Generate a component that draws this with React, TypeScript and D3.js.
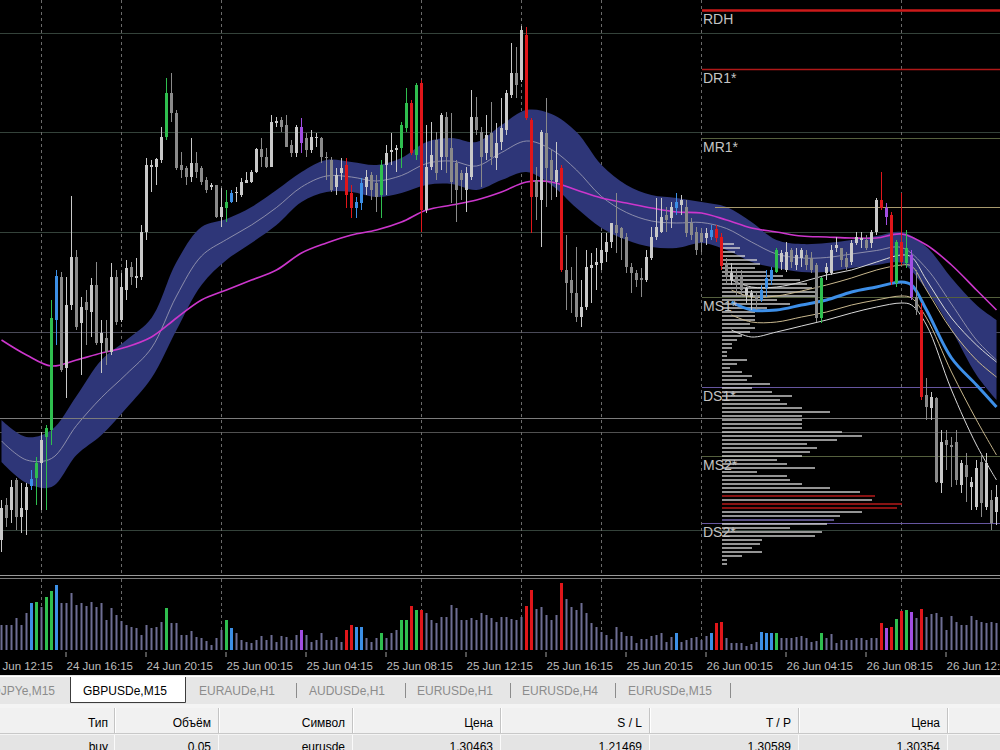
import React from "react";
import * as d3 from "d3";

// ---------- DATA (GBPUSDe, M15) ----------
const opens = [1.5330,1.53475,1.5345,1.5360,1.53415,1.5345,1.5357,1.5361,1.53685,1.53815,
1.5385,1.5440,1.54615,1.5416,1.54475,1.54715,1.54385,1.5449,1.5444,1.54575,
1.54285,1.5431,1.5424,1.54615,1.5440,1.5455,1.54665,1.5461,1.54615,1.5484,
1.55165,1.55165,1.5520,1.55315,1.55535,1.55435,1.55175,1.5516,1.55115,1.55185,
1.5516,1.5510,1.55065,1.55075,1.54915,1.5496,1.5499,1.55035,1.55025,1.55085,
1.5509,1.5514,1.55255,1.55215,1.55165,1.55385,1.5540,1.55375,1.55275,1.55235,
1.55365,1.5531,1.5525,1.5531,1.5531,1.55215,1.5520,1.55065,1.55135,1.55175,
1.55035,1.5496,1.54985,1.55065,1.55125,1.55085,1.55025,1.55175,1.5524,1.5525,
1.5526,1.5536,1.55485,1.55225,1.55585,1.5495,1.55165,1.5530,1.55215,1.55415,
1.5526,1.55185,1.55135,1.5505,1.55115,1.55415,1.5534,1.55235,1.55335,1.5521,
1.5529,1.5535,1.55525,1.55635,1.5560,1.55825,1.5540,1.5510,1.5500,1.55335,
1.5520,1.5509,1.5516,1.5465,1.5460,1.54535,1.54415,1.54465,1.5466,1.54675,
1.54685,1.5474,1.5479,1.54875,1.5486,1.54815,1.54665,1.54635,1.5461,1.5460,
1.5471,1.54815,1.5484,1.54925,1.5491,1.5496,1.54975,1.54965,1.54885,1.5484,
1.54835,1.5481,1.54815,1.54855,1.54815,1.54675,1.5460,1.54625,1.54615,1.54525,
1.54515,1.54525,1.5450,1.5456,1.5460,1.5464,1.5469,1.5465,1.5475,1.54675,
1.5471,1.54725,1.5471,1.54675,1.5441,1.54635,1.54635,1.5476,1.5476,1.5471,
1.5469,1.54785,1.5480,1.5480,1.54785,1.5484,1.5500,1.5496,1.54925,1.54585,
1.5479,1.54685,1.54725,1.54515,1.5445,1.54025,1.5396,1.5401,1.53585,1.5380,
1.53775,1.5379,1.53575,1.53675,1.53565,1.53465,1.5369,1.53465,1.5350,1.5344];

const highs = [1.5350,1.5351,1.5360,1.5361,1.53585,1.53585,1.5365,1.53715,1.5384,1.53875,
1.5450,1.5465,1.5464,1.54615,1.5502,1.5475,1.54515,1.5455,1.5461,1.5469,
1.5440,1.5440,1.54685,1.5465,1.54635,1.5470,1.5469,1.5471,1.54875,1.5521,
1.5520,1.5521,1.55365,1.5561,1.55635,1.5545,1.5524,1.5517,1.5531,1.5524,
1.5517,1.55115,1.55085,1.55075,1.5506,1.5505,1.5505,1.55065,1.5511,1.5514,
1.5515,1.5526,1.5531,1.5526,1.55425,1.55415,1.55415,1.55425,1.5530,1.55375,
1.5541,1.55335,1.5535,1.55335,1.55315,1.5524,1.55215,1.5516,1.5521,1.5521,
1.55075,1.55015,1.5511,1.5515,1.5514,1.55125,1.5520,1.55275,1.55335,1.55275,
1.5539,1.5556,1.5550,1.55585,1.5560,1.55375,1.5539,1.5534,1.55435,1.5544,
1.55435,1.5520,1.5515,1.55165,1.5555,1.55515,1.55365,1.55425,1.5549,1.55385,
1.5551,1.5555,1.55785,1.55765,1.5587,1.55865,1.5541,1.55165,1.5535,1.5551,
1.5525,1.5529,1.55175,1.54825,1.54665,1.54765,1.5460,1.5475,1.54735,1.5476,
1.54835,1.54835,1.54885,1.55035,1.54865,1.54835,1.54685,1.5465,1.5466,1.5475,
1.54865,1.5501,1.5501,1.54965,1.5499,1.55035,1.55025,1.5500,1.5491,1.54865,
1.5486,1.5486,1.54875,1.54875,1.54835,1.5471,1.54685,1.5466,1.5465,1.54565,
1.5455,1.5454,1.54575,1.5465,1.54665,1.5476,1.5475,1.5479,1.5476,1.5476,
1.5476,1.5475,1.5474,1.54685,1.54615,1.54685,1.54775,1.54815,1.5476,1.5474,
1.5480,1.5484,1.5484,1.54825,1.5485,1.5501,1.5514,1.54985,1.5494,1.5480,
1.55035,1.5485,1.5475,1.5465,1.54485,1.5411,1.5404,1.54015,1.5385,1.5385,
1.53815,1.5385,1.5370,1.53735,1.53615,1.5370,1.53735,1.53735,1.5355,1.53575];

const lows = [1.5324,1.53365,1.53385,1.5335,1.53335,1.53325,1.5355,1.53475,1.5345,1.5345,
1.53775,1.54275,1.5414,1.5401,1.5445,1.5435,1.54125,1.54275,1.54315,1.54275,
1.54135,1.54175,1.54225,1.54375,1.5439,1.5450,1.54575,1.5456,1.5460,1.5480,
1.5504,1.55075,1.55185,1.5530,1.5539,1.5515,1.5511,1.55075,1.5509,1.5511,
1.55075,1.55035,1.5505,1.5491,1.54865,1.5489,1.54985,1.5499,1.55015,1.55085,
1.55085,1.55135,1.55165,1.5516,1.55165,1.55365,1.5534,1.55265,1.55215,1.55215,
1.55235,1.55215,1.55235,1.55265,1.55185,1.5510,1.5504,1.55025,1.5510,1.5496,
1.5491,1.5491,1.5495,1.55025,1.5500,1.5494,1.5491,1.55025,1.55175,1.5514,
1.5516,1.5534,1.55225,1.5520,1.5484,1.54935,1.5515,1.5510,1.5515,1.55135,
1.54985,1.5489,1.5500,1.5494,1.5510,1.55325,1.55065,1.5520,1.55175,1.5515,
1.5525,1.55325,1.5551,1.5551,1.5559,1.5540,1.54835,1.5490,1.54765,1.54965,
1.5500,1.55015,1.5464,1.5445,1.54435,1.5439,1.54365,1.5445,1.54485,1.5455,
1.5465,1.5469,1.5476,1.54735,1.5470,1.54635,1.54535,1.54565,1.54515,1.5459,
1.5470,1.5480,1.54835,1.5484,1.5486,1.54925,1.54925,1.54815,1.5480,1.54725,
1.5474,1.54775,1.5480,1.5479,1.5465,1.54575,1.54575,1.54525,1.54515,1.54485,
1.5445,1.5445,1.5449,1.54515,1.54575,1.54635,1.5465,1.5464,1.5466,1.5465,
1.54665,1.5465,1.54635,1.5439,1.54385,1.5460,1.54625,1.5474,1.54665,1.5465,
1.54675,1.54775,1.5476,1.5475,1.5476,1.54825,1.5495,1.54875,1.54575,1.54565,
1.54675,1.5466,1.5450,1.54425,1.5400,1.5390,1.5390,1.53585,1.53535,1.5365,
1.53565,1.53575,1.53535,1.5349,1.5345,1.5345,1.53415,1.5345,1.5335,1.53375];

const closes = [1.5346,1.5341,1.53565,1.53415,1.5346,1.53565,1.53605,1.53685,1.5380,1.5386,
1.5441,1.5462,1.5415,1.54475,1.54715,1.54365,1.54465,1.5445,1.54575,1.54285,
1.54335,1.5424,1.54615,1.5439,1.54565,1.5466,1.54615,1.5462,1.5484,1.55175,
1.55175,1.55205,1.55315,1.55535,1.55435,1.5516,1.5515,1.55115,1.55185,1.5514,
1.5509,1.5505,1.55075,1.54915,1.54965,1.5499,1.55035,1.5504,1.5509,1.5510,
1.5514,1.55255,1.55215,1.55165,1.5539,1.55395,1.55365,1.55265,1.55235,1.55365,
1.55285,1.5525,1.55315,1.55315,1.55215,1.5521,1.5505,1.55125,1.5516,1.55025,
1.5496,1.5499,1.55085,1.55115,1.5505,1.55015,1.55175,1.55235,1.5525,1.5526,
1.55375,1.55485,1.55235,1.55575,1.5495,1.55165,1.55225,1.55135,1.55425,1.55215,
1.5509,1.5505,1.5510,1.55135,1.55415,1.5535,1.55215,1.55325,1.55215,1.55285,
1.5536,1.55535,1.55635,1.55575,1.5585,1.5541,1.55015,1.55015,1.5534,1.5516,
1.5510,1.5515,1.5465,1.54585,1.54535,1.54415,1.54465,1.54665,1.54675,1.5469,
1.5475,1.5479,1.54885,1.54835,1.5481,1.54665,1.54635,1.5460,1.5460,1.54715,
1.54815,1.54865,1.54915,1.5490,1.54965,1.5499,1.5500,1.54835,1.54825,1.5475,
1.5479,1.54835,1.5485,1.5481,1.5467,1.54615,1.54635,1.54585,1.5455,1.5456,
1.54535,1.5450,1.5455,1.5461,1.5465,1.5475,1.54735,1.5474,1.5469,1.54725,
1.5475,1.54675,1.5465,1.5441,1.5461,1.54665,1.5475,1.54775,1.5470,1.54665,
1.54785,1.54815,1.5481,1.5476,1.5484,1.5500,1.5496,1.54915,1.5459,1.5479,
1.5469,1.5476,1.54515,1.5445,1.54015,1.53965,1.54015,1.5359,1.5379,1.53775,
1.53765,1.5360,1.53685,1.53615,1.5359,1.5366,1.53485,1.53685,1.53385,1.53515];

const volumes = [250,250,250,320,250,370,470,480,430,530,
590,650,470,470,570,450,470,440,480,430,
470,300,420,350,290,250,230,220,150,250,
220,230,280,420,270,270,150,150,190,130,
120,90,50,120,200,300,220,170,100,80,
70,100,140,100,150,80,140,130,100,150,
200,150,80,100,170,100,100,130,80,200,
250,230,230,120,80,120,170,120,170,200,
300,300,440,400,400,370,300,270,330,330,
450,420,300,300,320,300,370,350,320,280,
330,330,310,300,330,440,600,410,430,350,
300,350,670,510,430,400,470,370,270,230,
180,150,110,230,180,140,140,70,110,110,
140,150,170,80,130,170,80,100,120,130,
100,140,170,270,280,120,70,70,70,40,
60,80,180,170,170,170,120,120,120,130,
140,120,80,90,170,120,160,70,100,100,
100,120,120,100,120,120,270,220,230,310,
390,400,380,320,410,330,360,370,330,200,
340,280,250,250,340,300,280,270,280,270];

// bars flagged by the volume indicator
const greenBars = [7,9,10,33,45,76,80,81,83,155,164,179,181];
const blueBars = [6,11,46,71,72,135,142,152,153,154];
const redBars = [69,70,82,84,105,106,112,143,144,176,178,180,184];
const purpleBars = [60,177,182];

// moving-average envelope band and slow MA (sampled)
const bandBars = [0,5,10,15,20,25,30,35,40,45,50,55,60,65,70,75,80,85,90,95,100,105,110,115,120,125,130,135,140,145,150,155,160,165,170,175,180,185,190,195,199];
const bandUpper = [1.5390,1.53815,1.5385,1.5402,1.5420,1.5430,1.5441,1.5469,1.54865,1.54905,1.54965,1.5505,1.5514,1.5520,1.5519,1.55175,1.5521,1.5529,1.5531,1.5529,1.55375,1.5545,1.5543,1.5534,1.55175,1.55075,1.55025,1.5501,1.5499,1.54965,1.5489,1.5480,1.5478,1.54785,1.5480,1.5482,1.5484,1.54765,1.5461,1.54475,1.5440];
const bandLower = [1.5369,1.53585,1.53565,1.53725,1.53825,1.5396,1.5411,1.5435,1.54575,1.5470,1.54785,1.54875,1.5499,1.5504,1.5504,1.55015,1.55035,1.55075,1.5508,1.5505,1.5510,1.5514,1.55075,1.5496,1.5486,1.5480,1.54765,1.5476,1.54785,1.5475,1.5469,1.5466,1.5464,1.5464,1.5466,1.54675,1.54685,1.5455,1.5435,1.54125,1.5400];
const slowMA = [1.5430,1.54225,1.5417,1.5420,1.54235,1.54265,1.54315,1.5441,1.5450,1.5455,1.5460,1.5465,1.54735,1.54785,1.54825,1.5485,1.5489,1.5495,1.54975,1.5500,1.5504,1.5509,1.5509,1.5505,1.5501,1.54985,1.5496,1.5494,1.54935,1.5490,1.5486,1.5484,1.5482,1.54815,1.5481,1.5481,1.5483,1.54775,1.54675,1.5455,1.5445];

// regression / deviation fan (sampled)
const fanBars = [146,150,155,160,165,170,175,180,182,185,190,195,199];
const fanBlue = [1.5449,1.5445,1.5445,1.54475,1.5450,1.5454,1.54565,1.5459,1.54575,1.5445,1.5421,1.54075,1.53965];
const fanTan = [1.5455,1.54515,1.5452,1.54545,1.54575,1.5461,1.5465,1.54675,1.5467,1.5455,1.5435,1.5420,1.54115];
const fanUpper = [1.5460,1.54565,1.54565,1.5459,1.54625,1.5465,1.5469,1.54725,1.54715,1.5460,1.5441,1.54275,1.5419];
const fanLower = [1.54425,1.5439,1.5439,1.54415,1.5444,1.54475,1.5450,1.5452,1.5451,1.5441,1.5414,1.5390,1.53725];
const fanLowest = [1.5435,1.54315,1.5434,1.5437,1.5440,1.54435,1.54465,1.54485,1.54475,1.54375,1.5405,1.53775,1.5360];

// pivot levels
const levelNames = ["RDH", "DR1*", "MR1*", "", "MS1*", "DS1*", "MS2*", "DS2*"];
const levelPrices = [1.5595, 1.55655, 1.5531, 1.54965, 1.54515, 1.54065, 1.5372, 1.53385];
const gridPrices = [1.55835, 1.5534, 1.5484, 1.5434, 1.5384, 1.5335];
const orderPrice = 1.5391;

// volume profile (bins of 0.0002 from the top bin down)
const profileTop = 1.5478;
const profileStep = 0.0002;
const profileVolumes = [12,18,13,23,35,38,33,45,61,78,85,90,93,93,55,68,45,33,33,33,28,33,28,20,15,10,10,5,5,25,15,8,20,30,25,48,30,50,70,58,65,80,108,80,80,80,80,120,140,115,85,95,88,80,55,65,93,35,65,68,80,108,138,153,150,180,175,140,118,112,105,68,100,93,40,38,30,40,20,5,5];
const profileRedBins = [63, 65, 66];
const profilePurpleBins = [69];

// marker lines (bar index)
const markerBars = [8, 24, 44, 84, 104, 120, 140, 180];

// time axis
const tickBars = [-3,13,29,45,61,77,93,109,125,141,157,173,189];
const tickLabels = ["24 Jun 12:15","24 Jun 16:15","24 Jun 20:15","25 Jun 00:15","25 Jun 04:15","25 Jun 08:15","25 Jun 12:15","25 Jun 16:15","25 Jun 20:15","26 Jun 00:15","26 Jun 04:15","26 Jun 08:15","26 Jun 12:15"];

// terminal
const tabNames = ["USDJPYe,M15","GBPUSDe,M15","EURAUDe,H1","AUDUSDe,H1","EURUSDe,H1","EURUSDe,H4","EURUSDe,M15"];
const activeTab = 1;
const tableHeaders = ["Тип","Объём","Символ","Цена","S / L","T / P","Цена"];
const tableRow = ["buy","0.05","eurusde","1.30463","1.21469","1.30589","1.30354"];

// ---------- LAYOUT / STYLE ----------
const tabX = [55, 83, 199, 309, 417, 522, 628];
const tabSepX = [296, 405, 510, 615, 730];
const colRight = [108, 211, 345, 493, 642, 791, 940];
const colSep = [114, 218, 352, 500, 649, 798, 947];

const GREEN = "#2fbf4f", BLUE = "#3c8fe6", RED = "#e0161a", PURPLE = "#a14ee2";
const BULL = "#c9c9c9", BEAR = "#8a8a8a";
const FONT = "'Liberation Sans', Arial, sans-serif";

export default function App() {
  const x = d3.scaleLinear().domain([0, 199]).range([1.5, 996.5]);
  const y = d3.scaleLinear().domain([1.53125, 1.56]).range([575, 0]);
  const yv = d3.scaleLinear().domain([0, 700]).range([650, 580]);
  const xp = d3.scaleLinear().domain([0, 200]).range([722, 922]);

  const sig = new Map<number, string>();
  greenBars.forEach((i) => sig.set(i, GREEN));
  blueBars.forEach((i) => sig.set(i, BLUE));
  redBars.forEach((i) => sig.set(i, RED));
  purpleBars.forEach((i) => sig.set(i, PURPLE));

  const band = bandBars.map((b, k) => ({ b, u: bandUpper[k], l: bandLower[k], m: slowMA[k] }));
  const bandArea = d3.area<any>().x((d) => x(d.b)).y0((d) => y(d.l)).y1((d) => y(d.u)).curve(d3.curveCatmullRom)(band) || "";
  const bandMid = d3.line<any>().x((d) => x(d.b)).y((d) => y((d.u + d.l) / 2)).curve(d3.curveCatmullRom)(band) || "";
  const slowLine = d3.line<any>().x((d) => x(d.b)).y((d) => y(d.m)).curve(d3.curveCatmullRom)(band) || "";

  const fanLine = (vals: number[]) =>
    d3.line<number>().x((_, k) => x(fanBars[k])).y((v) => y(v)).curve(d3.curveCatmullRom)(vals) || "";

  return (
    <svg width={1000} height={750} viewBox="0 0 1000 750"
      style={{ position: "fixed", left: 0, top: 0, display: "block", background: "#000" }}>
      <rect x={0} y={0} width={1000} height={676} fill="#000" />

      {/* grid */}
      {gridPrices.map((p, k) => (
        <line key={"g" + k} x1={0} x2={1000} y1={Math.round(y(p)) + 0.5} y2={Math.round(y(p)) + 0.5}
          stroke={k === 3 ? "#4a4a58" : k === 4 ? "#505050" : "#34423a"} strokeWidth={1} />
      ))}

      {/* marker verticals */}
      {markerBars.map((b) => (
        <g key={"m" + b}>
          <line x1={x(b)} x2={x(b)} y1={0} y2={575} stroke="#6a6a6a" strokeDasharray="3,3" />
          <line x1={x(b)} x2={x(b)} y1={579} y2={651} stroke="#6a6a6a" strokeDasharray="3,3" />
        </g>
      ))}

      {/* band */}
      <path d={bandArea} fill="#2e3678" />
      <path d={bandMid} fill="none" stroke="#9c9cb4" strokeWidth={1} opacity={0.85} />

      {/* order line */}
      <line x1={0} x2={1000} y1={Math.round(y(orderPrice)) + 0.5} y2={Math.round(y(orderPrice)) + 0.5} stroke="#7c7c7c" />

      {/* pivot level lines */}
      {levelPrices.map((p, k) => {
        const yy = Math.round(y(p)) + 0.5;
        const col = k === 0 ? "#cc1a1a" : k === 1 ? "#b01818" : k === 3 ? "#a89a6e" : k === 5 || k === 7 ? "#6656a0" : "#55603e";
        const x1 = k === 3 ? 715 : 702;
        const x2 = k === 5 ? 985 : 1000;
        return <line key={"l" + k} x1={x1} x2={x2} y1={yy} y2={yy} stroke={col} strokeWidth={k === 0 ? 2.5 : k === 1 ? 1.6 : 1} />;
      })}

      {/* slow MA */}
      <path d={slowLine} fill="none" stroke="#cc36cc" strokeWidth={1.6} />

      {/* volume profile */}
      {profileVolumes.map((v, k) => {
        const yy = y(profileTop - k * profileStep);
        const col = profileRedBins.includes(k) ? "#c41c1c" : profilePurpleBins.includes(k) ? "#8676c0" : "#d6d6d6";
        return <rect key={"p" + k} x={xp(0)} y={yy - 0.75} width={xp(v) - xp(0)} height={1.5} fill={col} opacity={0.92} />;
      })}

      {/* fan lines */}
      <path d={fanLine(fanLowest)} fill="none" stroke="#d8d8d8" strokeWidth={1} />
      <path d={fanLine(fanLower)} fill="none" stroke="#c9b88e" strokeWidth={1} />
      <path d={fanLine(fanUpper)} fill="none" stroke="#d8d8d8" strokeWidth={1} />
      <path d={fanLine(fanTan)} fill="none" stroke="#c9b88e" strokeWidth={1} />
      <path d={fanLine(fanBlue)} fill="none" stroke="#3d8fe8" strokeWidth={3} />

      {/* candles */}
      {opens.map((o, i) => {
        const c = closes[i];
        const col = sig.get(i) || (c >= o ? BULL : BEAR);
        const cx = x(i);
        const top = y(Math.max(o, c));
        const bot = y(Math.min(o, c));
        return (
          <g key={"c" + i}>
            <line x1={cx} x2={cx} y1={y(highs[i])} y2={y(lows[i])} stroke={col} strokeWidth={1} />
            <rect x={cx - 1.5} y={top} width={3} height={Math.max(1, bot - top)} fill={col} />
          </g>
        );
      })}

      {/* level labels */}
      {levelNames.map((n, k) => n ? (
        <text key={"t" + k} x={703} y={Math.round(y(levelPrices[k])) + 14} fill="#c4c4c4" fontSize={14} fontFamily={FONT}>{n}</text>
      ) : null)}

      {/* window separator */}
      <line x1={0} x2={1000} y1={575.5} y2={575.5} stroke="#9a9a9a" />
      <line x1={0} x2={1000} y1={578.5} y2={578.5} stroke="#7a7a7a" />

      {/* volumes */}
      {volumes.map((v, i) => {
        const col = sig.get(i);
        const w = col ? 3 : 2;
        return <rect key={"v" + i} x={x(i) - w / 2} y={yv(v)} width={w} height={yv(0) - yv(v)} fill={col || "#6e6e94"} />;
      })}

      {/* time axis */}
      {tickBars.map((b, k) => (
        <g key={"x" + k}>
          <line x1={x(b) - 0.5} x2={x(b) - 0.5} y1={652} y2={657} stroke="#a0a0a0" />
          <text x={x(b)} y={670} fill="#bdbdbd" fontSize={11.5} fontFamily={FONT}>{tickLabels[k]}</text>
        </g>
      ))}

      {/* tab bar */}
      <rect x={0} y={675} width={1000} height={29} fill="#e6e6e6" />
      <line x1={0} x2={1000} y1={676.5} y2={676.5} stroke="#ffffff" />
      <path d="M70.5,677 V702.5 H185.5 V677" fill="#ffffff" stroke="#3c3c3c" />
      {tabNames.map((t, k) => (
        <text key={"tab" + k} x={tabX[k]} y={695} textAnchor={k === 0 ? "end" : "start"}
          fill={k === activeTab ? "#000" : "#8c8c8c"} fontSize={12} fontFamily={FONT}>{t}</text>
      ))}
      {tabSepX.map((sx, k) => (
        <line key={"ts" + k} x1={sx + 0.5} x2={sx + 0.5} y1={683} y2={698} stroke="#8c8c8c" />
      ))}

      {/* table */}
      <rect x={0} y={704} width={1000} height={46} fill="#f4f4f4" />
      <rect x={0} y={708} width={1000} height={25} fill="#f1f1f1" />
      <line x1={0} x2={1000} y1={733.5} y2={733.5} stroke="#c8c8c8" />
      <rect x={0} y={735} width={1000} height={15} fill="#e4e4e4" />
      {colSep.map((sx, k) => (
        <g key={"cs" + k}>
          <line x1={sx + 0.5} x2={sx + 0.5} y1={708} y2={733} stroke="#c4c4c4" />
          <line x1={sx + 1.5} x2={sx + 1.5} y1={708} y2={733} stroke="#ffffff" />
          <line x1={sx + 0.5} x2={sx + 0.5} y1={735} y2={750} stroke="#fafafa" />
        </g>
      ))}
      {tableHeaders.map((h, k) => (
        <text key={"th" + k} x={colRight[k]} y={727} textAnchor="end" fill="#000" fontSize={12} fontFamily={FONT}>{h}</text>
      ))}
      {tableRow.map((h, k) => (
        <text key={"tr" + k} x={colRight[k]} y={751} textAnchor="end" fill="#000" fontSize={12} fontFamily={FONT}>{h}</text>
      ))}
    </svg>
  );
}
